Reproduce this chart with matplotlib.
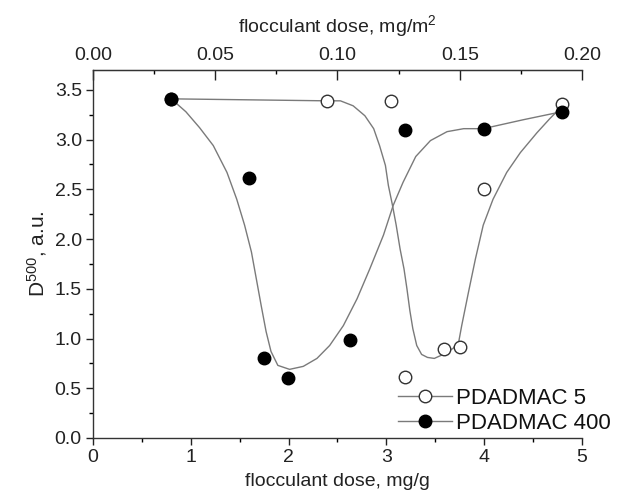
import matplotlib
matplotlib.use("Agg")
import matplotlib.pyplot as plt
from matplotlib.lines import Line2D

plt.rcParams['font.family'] = ['Liberation Sans', 'DejaVu Sans']
plt.rcParams['mathtext.fontset'] = 'custom'
plt.rcParams['mathtext.rm'] = 'Liberation Sans'
plt.rcParams['mathtext.it'] = 'Liberation Sans'

# measured points
p5_x = [0.80, 2.39, 3.05, 3.19, 3.59, 3.75, 4.00, 4.80]
p5_y = [3.41, 3.39, 3.39, 0.61, 0.89, 0.91, 2.50, 3.36]
p400_x = [0.80, 1.60, 1.75, 1.99, 2.63, 3.19, 4.00, 4.80]
p400_y = [3.41, 2.61, 0.80, 0.60, 0.99, 3.10, 3.11, 3.28]

# fitted curves
fit5_x = [0.80, 1.60, 2.39, 2.53, 2.66, 2.78, 2.87, 2.93, 2.99, 3.02, 3.06, 3.10,
          3.14, 3.18, 3.21, 3.24, 3.27, 3.31, 3.36, 3.42, 3.49, 3.58, 3.68, 3.74,
          3.77, 3.84, 3.91, 3.99, 4.09, 4.23, 4.37, 4.54, 4.67, 4.77, 4.80]
fit5_y = [3.41, 3.40, 3.39, 3.39, 3.34, 3.24, 3.11, 2.94, 2.74, 2.54, 2.35, 2.14,
          1.90, 1.70, 1.50, 1.28, 1.10, 0.93, 0.84, 0.81, 0.80, 0.84, 0.90, 0.97,
          1.13, 1.47, 1.80, 2.14, 2.40, 2.67, 2.87, 3.07, 3.21, 3.31, 3.33]
fit400_x = [0.80, 0.95, 1.09, 1.23, 1.37, 1.47, 1.55, 1.62, 1.67, 1.72, 1.77, 1.82,
            1.89, 2.01, 2.15, 2.29, 2.42, 2.56, 2.70, 2.83, 2.97, 3.07, 3.17, 3.30,
            3.45, 3.62, 3.79, 3.99, 4.40, 4.79]
fit400_y = [3.41, 3.28, 3.12, 2.94, 2.67, 2.40, 2.14, 1.87, 1.60, 1.33, 1.07, 0.87,
            0.73, 0.69, 0.72, 0.80, 0.93, 1.13, 1.40, 1.70, 2.04, 2.34, 2.57, 2.83,
            2.99, 3.08, 3.11, 3.11, 3.20, 3.28]

labels = ["PDADMAC 5", "PDADMAC 400"]
xlabel_bottom = "flocculant dose, mg/g"
xlabel_top = "flocculant dose, mg/m$^2$"
ylabel = "D$^{500}$, a.u."
conv = 0.04  # mg/g -> mg/m2

fig = plt.figure(figsize=(6.17, 4.94), dpi=100)
ax = fig.add_axes([0.1507, 0.1134, 0.7926, 0.7449])

lc = '#7a7a7a'
ax.plot(fit5_x, fit5_y, color=lc, lw=1.0, zorder=2, solid_joinstyle='round')
ax.plot(fit400_x, fit400_y, color=lc, lw=1.0, zorder=2, solid_joinstyle='round')
ax.plot(p5_x, p5_y, 'o', ms=9, mfc='white', mec='#333333', mew=1.0, ls='none', zorder=3)
ax.plot(p400_x, p400_y, 'o', ms=9, mfc='black', mec='black', ls='none', zorder=4)

ax.set_xlim(0, 5)
ax.set_ylim(0, 3.7)
ax.set_xticks([0, 1, 2, 3, 4, 5])
ax.set_xticks([0.5, 1.5, 2.5, 3.5, 4.5], minor=True)
yt = [0, 0.5, 1.0, 1.5, 2.0, 2.5, 3.0, 3.5]
ax.set_yticks(yt)
ax.set_yticks([0.25 + 0.5 * i for i in range(7)], minor=True)
ax.set_yticklabels([f"{v:.1f}" for v in yt])
ax.tick_params(axis='both', which='major', direction='out', length=5, width=1,
               labelsize=14, colors='#222222', pad=3)
ax.tick_params(axis='both', which='minor', direction='out', length=3, width=1)
ax.spines['right'].set_visible(False)
for s in ['left', 'bottom', 'top']:
    ax.spines[s].set_color('#333333')
    ax.spines[s].set_linewidth(1.0)

ax.set_xlabel(xlabel_bottom, fontsize=14, color='#222222', labelpad=5)
ax.set_ylabel(ylabel, fontsize=15, color='#222222', labelpad=4)

top = ax.secondary_xaxis('top', functions=(lambda x: x * conv, lambda x: x / conv))
tt = [0.00, 0.05, 0.10, 0.15, 0.20]
top.set_xticks(tt)
top.set_xticks([0.025, 0.075, 0.125, 0.175], minor=True)
top.set_xticklabels([f"{v:.2f}" for v in tt])
top.tick_params(which='major', direction='in', length=7, width=1, labelsize=14,
                colors='#222222', pad=4)
top.tick_params(which='minor', direction='in', length=3, width=1)
top.set_xlabel(xlabel_top, fontsize=14, color='#222222', labelpad=11)
top.spines['top'].set_color('#333333')

handles = [
    Line2D([], [], color=lc, lw=1.0, marker='o', ms=9, mfc='white', mec='#333333'),
    Line2D([], [], color=lc, lw=1.0, marker='o', ms=9, mfc='black', mec='black'),
]
leg = fig.legend(handles, labels, loc='lower right', bbox_to_anchor=(0.997, 0.112),
                 frameon=False, fontsize=16, handlelength=2.4, handletextpad=0.2,
                 labelspacing=0.2, borderaxespad=0.1, borderpad=0.1)
for t in leg.get_texts():
    t.set_color('#111111')

fig.savefig("out.png", dpi=100)
